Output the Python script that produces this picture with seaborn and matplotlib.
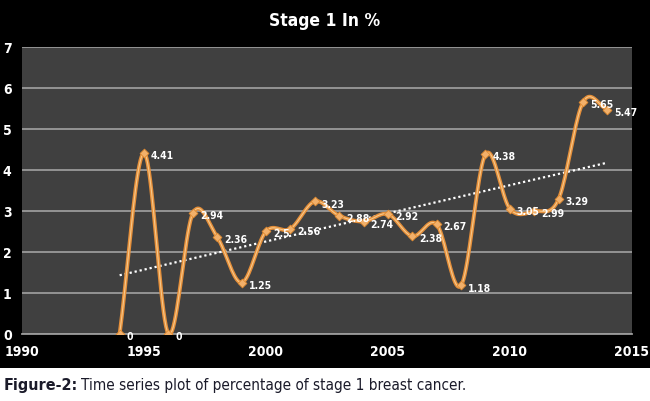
import numpy as np
import pandas as pd
import seaborn as sns
import matplotlib
matplotlib.use("Agg")
import matplotlib.pyplot as plt
from matplotlib.patches import Rectangle

years = [1994, 1995, 1996, 1997, 1998, 1999, 2000, 2001, 2002, 2003, 2004,
         2005, 2006, 2007, 2008, 2009, 2010, 2011, 2012, 2013, 2014]
stage1 = [0, 4.41, 0, 2.94, 2.36, 1.25, 2.5, 2.56, 3.23, 2.88, 2.74,
          2.92, 2.38, 2.67, 1.18, 4.38, 3.05, 2.99, 3.29, 5.65, 5.47]
x_ticks = [1990, 1995, 2000, 2005, 2010, 2015]
y_ticks = [0, 1, 2, 3, 4, 5, 6, 7]

df = pd.DataFrame({"year": years, "pct": stage1})


def smooth(x, y, n=20):
    # Catmull-Rom style smoothing like Excel's smoothed line
    x = np.asarray(x, float)
    y = np.asarray(y, float)
    px = np.concatenate([[2 * x[0] - x[1]], x, [2 * x[-1] - x[-2]]])
    py = np.concatenate([[2 * y[0] - y[1]], y, [2 * y[-1] - y[-2]]])
    xs, ys = [], []
    for i in range(1, len(px) - 2):
        t = np.linspace(0, 1, n, endpoint=False)
        for arr, out in ((px, xs), (py, ys)):
            p0, p1, p2, p3 = arr[i - 1], arr[i], arr[i + 1], arr[i + 2]
            out.extend(0.5 * (2 * p1 + (-p0 + p2) * t
                              + (2 * p0 - 5 * p1 + 4 * p2 - p3) * t ** 2
                              + (-p0 + 3 * p1 - 3 * p2 + p3) * t ** 3))
    xs.append(x[-1])
    ys.append(y[-1])
    return np.array(xs), np.array(ys)


sns.set_style("dark")
plt.rcParams["font.family"] = ["DejaVu Sans"]

fig = plt.figure(figsize=(6.5, 4.02), dpi=100, facecolor="black")
ax = fig.add_axes([0.034, 0.167, 0.938, 0.714])
ax.set_facecolor("#404040")

sx, sy = smooth(df["year"], df["pct"])
sm = pd.DataFrame({"year": sx, "pct": sy})
sns.lineplot(data=sm, x="year", y="pct", ax=ax, color="#e58f3a", lw=2.8, sort=False, zorder=3)
sns.lineplot(data=sm, x="year", y="pct", ax=ax, color="#f7c88a", lw=0.8, sort=False, zorder=4)
sns.scatterplot(data=df, x="year", y="pct", ax=ax, marker="D", s=20, color="#f2b06a",
                edgecolor="#e08a30", linewidth=0.6, zorder=5)

# linear trend line
k, b = np.polyfit(df["year"], df["pct"], 1)
tx = np.array([years[0], years[-1]])
sns.lineplot(x=tx, y=k * tx + b, ax=ax, color="white", lw=1.6, linestyle=(0, (1, 1.3)), zorder=2)

for xv, yv in zip(years, stage1):
    lab = f"{yv:g}"
    ax.annotate(lab, (xv, yv), xytext=(5, -1.5), textcoords="offset points",
                color="white", fontsize=7.5, fontweight="bold", va="center",
                fontstretch="condensed", zorder=6)

ax.set_xlim(1990, 2015)
ax.set_ylim(0, 7)
ax.set_xticks(x_ticks)
ax.set_yticks(y_ticks)
ax.grid(axis="y", color="#9a9a9a", lw=1.3)
ax.grid(axis="x", visible=False)
ax.tick_params(colors="white", labelsize=10, length=4, color="#9a9a9a", direction="out")
for lab in ax.get_xticklabels() + ax.get_yticklabels():
    lab.set_fontweight("bold")
    lab.set_fontstretch("condensed")
for s in ["top", "right", "left"]:
    ax.spines[s].set_visible(False)
ax.spines["bottom"].set_color("#9a9a9a")
ax.spines["bottom"].set_linewidth(1.3)
ax.set_xlabel("")
ax.set_ylabel("")

fig.text(0.5, 0.948, "Stage 1 In %", color="white", fontsize=12.5, fontweight="bold",
         fontstretch="condensed", ha="center", va="center")

fig.patches.append(Rectangle((0, 0), 1, 0.083, transform=fig.transFigure,
                             facecolor="white", edgecolor="none", zorder=-1))
t1 = fig.text(0.006, 0.042, "Figure-2:", color="#1b1b2a", fontsize=11.5, fontweight="bold",
              fontstretch="condensed", va="center")
fig.canvas.draw()
bb = t1.get_window_extent().transformed(fig.transFigure.inverted())
fig.text(bb.x1 + 0.005, 0.042, "Time series plot of percentage of stage 1 breast cancer.",
         color="#1b1b2a", fontsize=11, fontstretch="condensed", va="center")

fig.savefig("out.png", dpi=100, facecolor="black")
